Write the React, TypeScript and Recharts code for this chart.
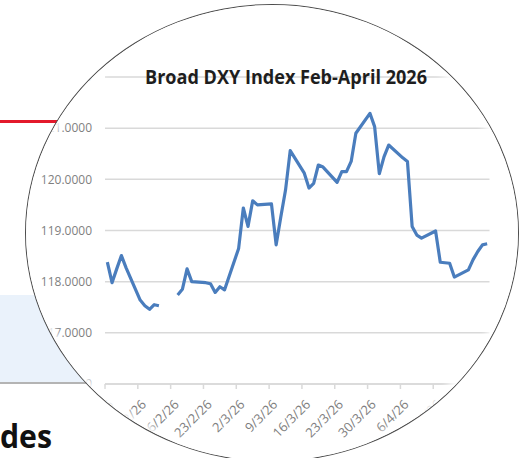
import { LineChart, Line, XAxis, YAxis, CartesianGrid } from 'recharts';

// trading days, Feb-April 2026 (16/2 is a US holiday, left blank)
const tradeDates = [
  '2/2', '3/2', '4/2', '5/2', '6/2', '9/2', '10/2', '11/2', '12/2', '13/2',
  '16/2', '17/2', '18/2', '19/2', '20/2', '23/2', '24/2', '25/2', '26/2', '27/2',
  '2/3', '3/3', '4/3', '5/3', '6/3', '9/3', '10/3', '11/3', '12/3', '13/3',
  '16/3', '17/3', '18/3', '19/3', '20/3', '23/3', '24/3', '25/3', '26/3', '27/3',
  '30/3', '31/3', '1/4', '2/4', '3/4', '6/4', '7/4', '8/4', '9/4', '10/4',
  '13/4', '14/4', '15/4', '16/4', '17/4', '20/4', '21/4', '22/4', '23/4', '24/4',
];

const dxyValues: (number | null)[] = [
  118.38, 117.98, 118.25, 118.51, 118.27, 117.64, 117.53, 117.46, 117.55, 117.53,
  null, 117.74, 117.85, 118.25, 118.0, 117.98, 117.96, 117.79, 117.9, 117.84,
  118.65, 119.44, 119.08, 119.58, 119.5, 119.52, 118.72, 119.27, 119.79, 120.56,
  120.12, 119.83, 119.92, 120.28, 120.24, 119.94, 120.15, 120.15, 120.35, 120.9,
  121.29, 121.03, 120.11, 120.44, 120.67, 120.42, 120.35, 119.08, 118.91, 118.85,
  118.99, 118.38, 118.37, 118.36, 118.09, 118.23, 118.43, 118.59, 118.72, 118.74,
];

const xTickLabels = [
  '2/2/26', '9/2/26', '16/2/26', '23/2/26', '2/3/26', '9/3/26',
  '16/3/26', '23/3/26', '30/3/26', '6/4/26', '13/4/26', '20/4/26',
];

const yTicks = [116, 117, 118, 119, 120, 121, 122];

const START = Date.UTC(2026, 1, 2);
const dayOf = (s: string) => {
  const [d, m] = s.split('/').map(Number);
  return (Date.UTC(2026, m - 1, d) - START) / 86400000;
};

const chartData = tradeDates.map((d, i) => ({ day: dayOf(d), value: dxyValues[i] }));
// Excel date axis: ticks sit half a day before each date
const xTicks = xTickLabels.map(l => dayOf(l) - 0.5);

const XTick = ({ x, y, payload }: any) => {
  const idx = xTicks.indexOf(payload.value);
  return (
    <text
      transform={`translate(${x + 6},${y + 11}) rotate(-45)`}
      textAnchor="end"
      dy="0.35em"
      fill="#7f7f7f"
      fontSize={13}
      fontFamily="Open Sans"
    >
      {xTickLabels[idx]}
    </text>
  );
};

export default function App() {
  return (
    <div style={{ position: 'fixed', left: 0, top: 0, width: 525, height: 458, overflow: 'hidden', background: '#fff' }}>
      {/* page behind the magnifier */}
      <div style={{ position: 'absolute', left: 0, top: 120, width: 300, height: 3, background: '#e3192b' }} />
      <div
        style={{
          position: 'absolute', left: 0, top: 295, width: 300, height: 87,
          background: '#eaf2fb', borderBottom: '2px solid #b4b4b4',
        }}
      />
      <svg width={120} height={458} style={{ position: 'absolute', left: 0, top: 0 }}>
        <text x={0} y={448} fontFamily="Open Sans" fontWeight="bold" fontSize={32} fill="#111" textLength={52} lengthAdjust="spacingAndGlyphs">
          des
        </text>
      </svg>

      <div
        style={{
          position: 'absolute', left: 25, top: 4, width: 494, height: 458, boxSizing: 'border-box',
          borderRadius: '50%', border: '1px solid #4d4d4d', background: '#fff', overflow: 'hidden',
        }}
      >
        <div style={{ position: 'absolute', left: -26, top: -5 }}>
          <LineChart width={525} height={458} data={chartData} margin={{ top: 77, right: 35.5, left: 45, bottom: 14 }}>
            <CartesianGrid vertical={false} stroke="#d9d9d9" strokeWidth={1.5} />
            <XAxis
              type="number"
              dataKey="day"
              domain={[-0.5, 81.5]}
              ticks={xTicks}
              interval={0}
              allowDataOverflow
              height={60}
              stroke="#d9d9d9"
              strokeWidth={1.5}
              tickSize={5}
              tickMargin={2}
              tick={<XTick />}
            />
            <YAxis
              domain={[116, 122]}
              ticks={yTicks}
              interval={0}
              width={60}
              axisLine={false}
              tickLine={false}
              tickSize={0}
              tickMargin={13}
              tickFormatter={(v: number) => v.toFixed(4)}
              tick={{ fill: '#7f7f7f', fontSize: 12, fontFamily: 'Open Sans' }}
            />
            <Line
              type="linear"
              dataKey="value"
              stroke="#4a7dbd"
              strokeWidth={3.2}
              strokeLinejoin="round"
              dot={false}
              isAnimationActive={false}
            />
          </LineChart>
          <svg width={525} height={458} style={{ position: 'absolute', left: 0, top: 0, pointerEvents: 'none' }}>
            <text
              x={286}
              y={83.5}
              textAnchor="middle"
              fontFamily="Open Sans"
              fontWeight="bold"
              fontSize={20}
              fill="#1e1e1e"
              textLength={282}
              lengthAdjust="spacingAndGlyphs"
            >
              Broad DXY Index Feb-April 2026
            </text>
          </svg>
        </div>
        {/* soft fade at the lens edge */}
        <div style={{ position: 'absolute', inset: 0, borderRadius: '50%', boxShadow: 'inset 0 0 7px 5px #fff' }} />
      </div>
    </div>
  );
}
